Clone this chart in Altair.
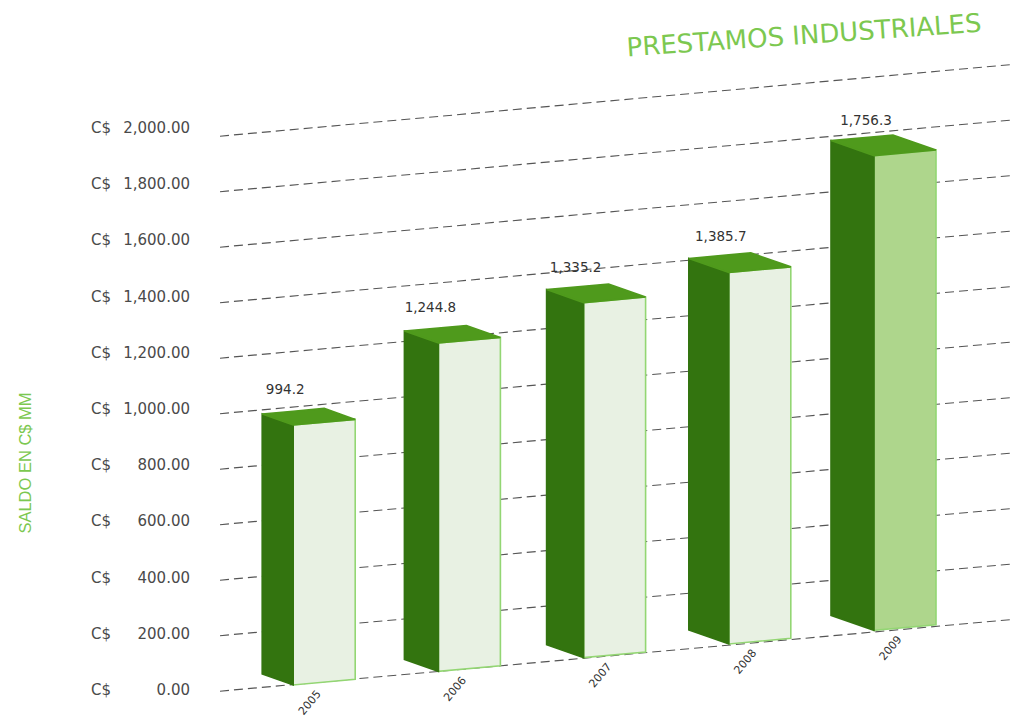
import altair as alt
import pandas as pd

# Series
years = ["2005", "2006", "2007", "2008", "2009"]
balances = [994.2, 1244.8, 1335.2, 1385.7, 1756.3]
balance_labels = ["994.2", "1,244.8", "1,335.2", "1,385.7", "1,756.3"]
tick_values = [0, 200, 400, 600, 800, 1000, 1200, 1400, 1600, 1800, 2000]
tick_labels = ["0.00", "200.00", "400.00", "600.00", "800.00", "1,000.00",
               "1,200.00", "1,400.00", "1,600.00", "1,800.00", "2,000.00"]
chart_title = "PRESTAMOS INDUSTRIALES"
axis_title = "SALDO EN C$ MM"

W, H = 1013, 719
FLOOR_SLOPE = -0.0905
GREEN_TEXT = "#7cc850"
GREY_TEXT = "#4a4a4a"


def wall_y(value, x):
    """Height of a value on the receding back wall at horizontal position x."""
    return 691 - 0.2775 * value + FLOOR_SLOPE * (x - 222)


def floor_y(x):
    return 685 + FLOOR_SLOPE * 1.04 * (x - 293)


# Oblique projection of each bar into its three visible faces
faces = []
for i, (year, value) in enumerate(zip(years, balances)):
    left = 293.2 + 145.2 * i
    right = left + 62
    depth = 31 + 3 * i
    lift = 11 + i
    rise = (0.2615 + 0.0022 * i) * value
    slope = FLOOR_SLOPE
    side_x = left - depth
    back_x = right - depth

    def pt(face, x, y, y2):
        faces.append({"bar": year, "face": face, "x": x, "y": y, "y2": y2})

    bottom_l = floor_y(left)
    top_l = bottom_l - rise
    top_r = top_l + slope * (right - left)
    bottom_r = bottom_l + slope * (right - left)
    side_top = top_l - lift
    back_y = side_top + slope * (right - left)

    pt("front", left, top_l, bottom_l)
    pt("front", right, top_r, bottom_r)
    pt("side", side_x, side_top, floor_y(left) - lift)
    pt("side", left, top_l, bottom_l)

    # Top face: a parallelogram swept from left to right
    upper_at_left = side_top + (back_y - side_top) * (left - side_x) / (back_x - side_x)
    lower_at_back = top_l + (top_r - top_l) * (back_x - left) / (right - left)
    pt("top", side_x, side_top, side_top)
    pt("top", left, upper_at_left, top_l)
    pt("top", back_x, back_y, lower_at_back)
    pt("top", right, top_r, top_r)

faces = pd.DataFrame(faces)
front_fill = {y: "#e8f1e3" for y in years}
front_fill["2009"] = "#aed68c"
faces["id"] = faces["bar"] + faces["face"]
faces["fill"] = [
    front_fill[b] if f == "front" else ("#33740f" if f == "side" else "#4f9a1c")
    for b, f in zip(faces["bar"], faces["face"])
]
faces["edge"] = [
    "#93d673" if f == "front" else ("#33740f" if f == "side" else "#4f9a1c")
    for f in faces["face"]
]

grid = pd.DataFrame(
    [{"value": v, "x": x, "y": wall_y(v, x)} for v in tick_values for x in (220, W)]
)

ticks = pd.DataFrame({
    "label": tick_labels,
    "currency": ["C$"] * len(tick_labels),
    "y": [690 - 0.281 * v for v in tick_values],
})

tops = pd.DataFrame({
    "label": balance_labels,
    "x": [293.2 + 145.2 * i - 8 for i in range(5)],
    "y": [floor_y(293.2 + 145.2 * i) - (0.2615 + 0.0022 * i) * v - 35
          for i, v in enumerate(balances)],
})

year_ticks = pd.DataFrame({
    "label": years,
    "x": [293.2 + 145.2 * i + 17 for i in range(5)],
    "y": [floor_y(293.2 + 145.2 * i) + 18 for i in range(5)],
})

x_scale = alt.Scale(domain=[0, W], range=[0, W], nice=False, zero=False)
y_scale = alt.Scale(domain=[0, H], range=[0, H], nice=False, zero=False)
X = alt.X("x:Q", scale=x_scale, axis=None)
Y = alt.Y("y:Q", scale=y_scale, axis=None)

grid_layer = alt.Chart(grid).mark_line(
    color="#555555", strokeWidth=1.1, strokeDash=[9, 5]
).encode(X, Y, detail="value:N")

bar_layer = alt.Chart(faces).mark_area(strokeWidth=1.6, line=False).encode(
    X, Y, alt.Y2("y2:Q"),
    detail="id:N",
    fill=alt.Fill("fill:N", scale=None),
    stroke=alt.Stroke("edge:N", scale=None),
)

tick_text = alt.Chart(ticks).mark_text(
    align="right", baseline="middle", font="DejaVu Sans", fontSize=15, color=GREY_TEXT
).encode(alt.X("x:Q", scale=x_scale, axis=None), Y, text="label:N").transform_calculate(x="190")

currency_text = alt.Chart(ticks).mark_text(
    align="left", baseline="middle", font="DejaVu Sans", fontSize=15, color=GREY_TEXT
).encode(alt.X("x:Q", scale=x_scale, axis=None), Y, text="currency:N").transform_calculate(x="91")

value_text = alt.Chart(tops).mark_text(
    align="center", baseline="middle", font="DejaVu Sans", fontSize=13.5, color="#333333"
).encode(X, Y, text="label:N")

year_text = alt.Chart(year_ticks).mark_text(
    align="center", baseline="middle", font="DejaVu Sans", fontSize=11,
    color="#333333", angle=310
).encode(X, Y, text="label:N")

title_text = alt.Chart(pd.DataFrame({"t": [chart_title], "x": [804], "y": [36]})).mark_text(
    align="center", baseline="middle", font="DejaVu Sans", fontSize=26,
    color=GREEN_TEXT, angle=356
).encode(X, Y, text="t:N")

axis_text = alt.Chart(pd.DataFrame({"t": [axis_title], "x": [26], "y": [463]})).mark_text(
    align="center", baseline="middle", font="Liberation Sans", fontSize=16.5,
    color=GREEN_TEXT, angle=270
).encode(X, Y, text="t:N")

chart = alt.layer(
    grid_layer, bar_layer, tick_text, currency_text, value_text, year_text,
    title_text, axis_text,
).properties(
    width=W, height=H, padding=0, background="white",
    autosize=alt.AutoSizeParams(type="none"),
).configure_view(stroke=None)

chart.save("out.html", embed_options={"renderer": "svg", "actions": False})
